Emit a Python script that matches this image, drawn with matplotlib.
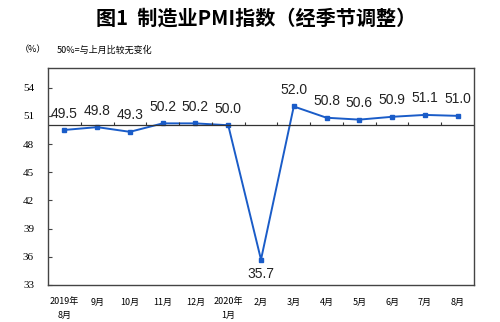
import matplotlib.pyplot as plt
import numpy as np

plt.rcParams['font.family'] = ['Noto Sans CJK SC', 'DejaVu Sans']

months = ['2019年\n8月', '9月', '10月', '11月', '12月', '2020年\n1月', '2月',
          '3月', '4月', '5月', '6月', '7月', '8月']
pmi = [49.5, 49.8, 49.3, 50.2, 50.2, 50.0, 35.7, 52.0, 50.8, 50.6, 50.9, 51.1, 51.0]
yticks = [33, 36, 39, 42, 45, 48, 51, 54]

fig = plt.figure(figsize=(5, 3.22), dpi=100)
ax = fig.add_axes([0.096, 0.115, 0.852, 0.674])

x = np.arange(len(pmi))
ax.plot(x, pmi, color='#1a5cc8', linewidth=1.4, marker='s', markersize=3)

# reference line at 50 with category separators
ax.axhline(50, color='#333333', linewidth=0.9)
ax.vlines(np.arange(1, len(pmi)) - 0.5, 50, 50.35, color='#333333', linewidth=0.8)

for i, v in enumerate(pmi):
    if i == 6:
        ax.text(i, v - 1.5, f'{v:.1f}', ha='center', va='center', fontsize=10,
                family='Liberation Sans', color='#222222')
    else:
        ax.text(i, v + 1.75, f'{v:.1f}', ha='center', va='center', fontsize=10,
                family='Liberation Sans', color='#222222')

ax.set_xlim(-0.5, len(pmi) - 0.5)
ax.set_ylim(33, 56.1)
ax.set_yticks(yticks)
ax.set_yticklabels([str(t) for t in yticks], family='Liberation Serif', fontsize=8)
ax.tick_params(axis='y', direction='in', length=3, pad=10, color='#444444')
ax.set_xticks(x)
ax.set_xticklabels(months, fontsize=6.5, linespacing=1.6, va='top')
ax.tick_params(axis='x', length=0, pad=9)
for s in ax.spines.values():
    s.set_color('#444444')
    s.set_linewidth(1.0)

fig.text(0.512, 0.945, '图1  制造业PMI指数（经季节调整）', ha='center', va='center',
         fontsize=14.5, weight='bold')
fig.text(0.04, 0.845, '（%）', ha='left', va='center', fontsize=6.5)
fig.text(0.114, 0.845, '50%=与上月比较无变化', ha='left', va='center', fontsize=6.5)

fig.savefig('out.png', dpi=100)
